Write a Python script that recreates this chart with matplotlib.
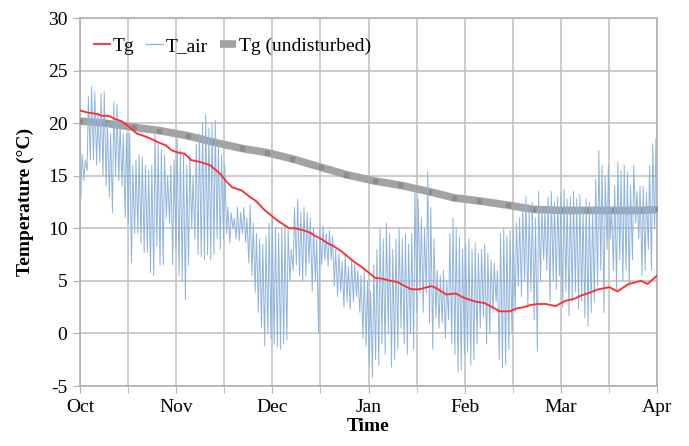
import numpy as np
import matplotlib
matplotlib.use('Agg')
import matplotlib.pyplot as plt
from matplotlib.lines import Line2D

plt.rcParams['font.family'] = ['Liberation Serif', 'DejaVu Serif']
plt.rcParams['axes.unicode_minus'] = False

# x axis is days since 1 Oct (Oct..Apr)
month_labels = ['Oct', 'Nov', 'Dec', 'Jan', 'Feb', 'Mar', 'Apr']
n_days = 182

# Tg (red)
tg_days = [0, 2.5, 5, 7, 9, 11, 13, 14.5, 16, 18, 20, 22.5, 24.5, 27, 29, 31, 33, 35,
           38, 41, 43, 44.5, 46, 48, 51, 53.5, 55.5, 58, 60, 62, 64, 66, 68, 70.5,
           72.5, 74, 76, 78, 80, 82.5, 84.5, 86.5, 88.5, 91, 93, 95.5, 98, 100,
           102.5, 104.5, 107, 109.5, 111, 113, 115.5, 118.5, 121, 123, 125, 127.5,
           130, 132.5, 135.5, 138, 140, 142, 144.5, 147, 150, 153, 156, 158, 161,
           163.5, 167, 169.5, 173, 177, 179, 182]
tg_vals = [21.2, 21.0, 20.9, 20.7, 20.7, 20.4, 20.2, 19.9, 19.5, 19.0, 18.8, 18.5, 18.2,
           17.9, 17.4, 17.2, 17.1, 16.5, 16.3, 16.0, 15.5, 15.1, 14.5, 13.9, 13.6, 13.0,
           12.6, 11.8, 11.3, 10.8, 10.4, 10.0, 10.0, 9.8, 9.6, 9.3, 9.0, 8.6, 8.3, 7.8,
           7.3, 6.8, 6.4, 5.8, 5.3, 5.2, 5.0, 4.9, 4.5, 4.2, 4.2, 4.4, 4.5, 4.2, 3.7,
           3.8, 3.4, 3.2, 3.0, 2.9, 2.5, 2.1, 2.1, 2.4, 2.5, 2.7, 2.8, 2.8, 2.6, 3.1,
           3.3, 3.6, 3.9, 4.2, 4.4, 4.0, 4.7, 5.0, 4.7, 5.5]

# Tg (undisturbed), grey
ug_days = [0, 8, 17, 25, 34, 42, 51, 59, 67, 76, 84, 93, 101, 110, 118, 126, 135,
           143, 152, 160, 168, 177, 182]
ug_vals = [20.2, 20.0, 19.6, 19.3, 18.8, 18.2, 17.6, 17.2, 16.6, 15.8, 15.1, 14.5,
           14.1, 13.5, 12.9, 12.6, 12.2, 11.8, 11.7, 11.7, 11.7, 11.7, 11.8]

# T_air daily max / min (one value per day, 1 Oct .. 31 Mar)
air_max = [17, 16.5, 22.5, 23.5, 23, 21, 22.8, 23, 20, 19, 22, 21.8, 20, 19, 19,
           19, 16, 16.5, 17, 16.8, 16, 15.5, 16, 19, 18, 17.5, 17, 15, 16, 16.5,
           18.5, 17.5, 17, 16, 17, 15, 18, 19, 20, 20.8, 19.5, 20, 20.3, 18, 17,
           16, 12, 11.5, 11, 12, 11.5, 12, 11, 12.3, 10.5, 9.5, 9, 8.5, 9.3, 10.5,
           10.9, 10, 9.5, 10, 10.2, 9.8, 8, 12, 12.8, 11.5, 12, 11.5, 11, 10, 9,
           10, 10.2, 9.5, 9.8, 9.3, 8, 7.6, 6.8, 7.5, 6.4, 7, 6.5, 6, 5.5, 6,
           5, 4, 6.5, 8, 10, 9, 10.5, 9.5, 8, 9, 10, 9, 9.5, 8.5, 9.5,
           13.7, 12.8, 11, 10, 15.4, 12, 9, 6, 5.5, 6, 5, 9.5, 11, 10, 9.3,
           8, 8.5, 9, 8, 8.6, 7.6, 8, 8.5, 7.6, 7, 6.7, 6, 9.5, 10, 9.3,
           9.8, 10, 10.5, 11, 12, 13, 11.5, 12.5, 11, 13.5, 12, 11.8, 13, 13.5, 12.5,
           13, 13.4, 13.7, 12.8, 13, 13.5, 12.8, 13.2, 12, 12.8, 12.5, 12, 14.7, 17.4, 16,
           15, 16, 12, 14, 16.3, 15.5, 16, 15.3, 14, 16, 13.5, 14, 14, 13.4, 16, 18, 18.5]
air_min = [12.8, 14.5, 15.5, 16.5, 16.5, 16, 16.3, 15, 14, 13, 11.5, 15, 14.5, 14, 11,
           10.5, 6.7, 9.5, 9.5, 8.6, 7.7, 7.7, 5.8, 5.5, 8.3, 6.5, 6.5, 11, 10.5, 6.5,
           8, 5.5, 5, 3.2, 6.5, 10, 9, 7.5, 7.3, 7, 7.5, 7, 7.5, 9, 8,
           9, 9.5, 8.6, 10, 9, 8.8, 9.5, 8.7, 6.7, 5.5, 3.9, 2, 0.5, -1.2, 0,
           -0.5, -1, -1.3, -1.5, -1, -0.6, 5, 6, 6.5, 5.5, 5, 5.5, 6.7, 4, 5,
           0, 6.5, 7, 6.4, 7, 4.5, 3.5, 4, 2.5, 3, 2.3, 3, 3.5, 2, -0.5,
           -1.2, -3, -4.2, -2.5, -3, -1, -2, 0, -3.2, -2.5, -1.5, 0.5, -1, -2, 0,
           -1.5, 2, 3.8, 2, 3.8, 1, -1.5, 1.5, 0.5, 1, -0.5, 1.3, -1, -2, -3.7,
           -3.5, -2, -1.8, -3, -2.5, -1, 0.5, 1.5, -1, 0, 2, 3, -2.5, -3.3, -3,
           -1.5, 0, 2, 4.5, 3.5, 5, 2.5, 4, 1.3, -1.7, 5, 7, 6, 3, 5,
           4.2, 5.5, 2.5, 4, 1.7, 3, 4, 2.3, 3, 1.5, 0.7, 2, 3, 4.5, 6,
           2, 8, 9, 6, 4.2, 7, 5, 6, 4.5, 7, 10.5, 9, 5.5, 6, 8, 6, 10]

day_idx = np.arange(len(air_max))
air_x = np.ravel(np.column_stack([day_idx + 0.25, day_idx + 0.65]))
air_y = np.ravel(np.column_stack([air_min, air_max]))

fig = plt.figure(figsize=(6.89, 4.46), dpi=100)
ax = fig.add_axes([0.1161, 0.1345, 0.8375, 0.8251])

grid_c = '#c4c4c4'
gray_c = '#a3a3a3'
red_c = '#ff2a2a'
blue_c = '#8fb4dc'
ax.plot(ug_days, ug_vals, color=gray_c, lw=5.5, solid_capstyle='butt',
        marker='s', ms=3.2, mfc='#8c8c8c', mec='#8c8c8c', zorder=3)
ax.plot(air_x, air_y, color=blue_c, lw=0.7, zorder=4)
ax.plot(tg_days, tg_vals, color=red_c, lw=1.3, zorder=5)

ax.set_xlim(0, n_days)
ax.set_ylim(-5, 30)
ax.set_xticks(np.linspace(0, n_days, 7))
ax.set_xticklabels(month_labels)
ax.set_xticks(np.linspace(0, n_days, 13), minor=True)
ax.set_yticks(np.arange(-5, 31, 5))

ax.grid(True, which='both', color=grid_c, lw=1.2, zorder=0)
ax.set_axisbelow(True)
for s in ax.spines.values():
    s.set_color('#b0b0b0')
    s.set_linewidth(1.2)
ax.tick_params(which='both', direction='out', length=5, color='#b0b0b0',
               labelsize=14, pad=4)

ax.set_ylabel('Temperature (°C)', fontsize=14, fontweight='bold', labelpad=10)
ax.set_xlabel('Time', fontsize=14, fontweight='bold', labelpad=2)

handles = [Line2D([], [], color=red_c, lw=1.3),
           Line2D([], [], color=blue_c, lw=0.9),
           Line2D([], [], color=gray_c, lw=5.5, solid_capstyle='butt')]
ax.legend(handles, ['Tg', 'T_air', 'Tg (undisturbed)'], loc='upper left',
          bbox_to_anchor=(0.0, 0.985), ncol=3, frameon=False, fontsize=14,
          handlelength=0.85, handletextpad=0.15, columnspacing=0.6, borderaxespad=0.3)

fig.savefig('out.png', dpi=100)
